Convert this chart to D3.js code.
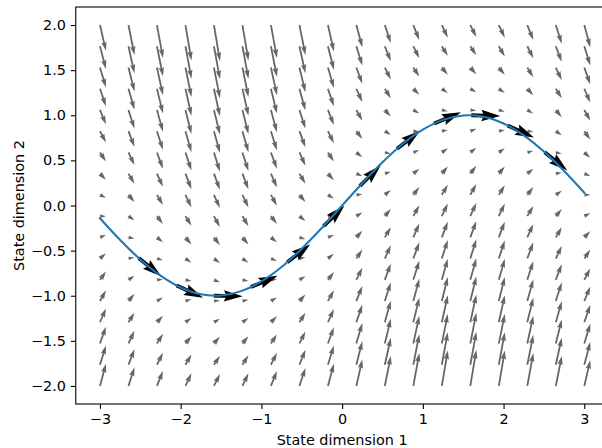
<!DOCTYPE html>
<html>
<head>
<meta charset="utf-8">
<script src="https://cdn.jsdelivr.net/npm/d3@7"></script>
<style>
  body { margin: 0; background: #fff; }
  svg { display: block; }
</style>
</head>
<body>
<svg id="chart" width="602" height="448"></svg>
<script>
// Sample grid of the vector field (state dimension 1 / state dimension 2)
const gridX = [-3.000, -2.647, -2.294, -1.941, -1.588, -1.235, -0.882, -0.529, -0.176,
               0.176, 0.529, 0.882, 1.235, 1.588, 1.941, 2.294, 2.647, 3.000];
const gridY = [-2.000, -1.765, -1.529, -1.294, -1.059, -0.824, -0.588, -0.353, -0.118,
               0.118, 0.353, 0.588, 0.824, 1.059, 1.294, 1.529, 1.765, 2.000];

// Horizontal component of the field, one row per gridY value
const fieldU = [
  [1,1,1,1,1,1,1,1,1,1,1,1,1,1,1,1,1,1],
  [1,1,1,1,1,1,1,1,1,1,1,1,1,1,1,1,1,1],
  [1,1,1,1,1,1,1,1,1,1,1,1,1,1,1,1,1,1],
  [1,1,1,1,1,1,1,1,1,1,1,1,1,1,1,1,1,1],
  [1,1,1,1,1,1,1,1,1,1,1,1,1,1,1,1,1,1],
  [1,1,1,1,1,1,1,1,1,1,1,1,1,1,1,1,1,1],
  [1,1,1,1,1,1,1,1,1,1,1,1,1,1,1,1,1,1],
  [1,1,1,1,1,1,1,1,1,1,1,1,1,1,1,1,1,1],
  [1,1,1,1,1,1,1,1,1,1,1,1,1,1,1,1,1,1],
  [1,1,1,1,1,1,1,1,1,1,1,1,1,1,1,1,1,1],
  [1,1,1,1,1,1,1,1,1,1,1,1,1,1,1,1,1,1],
  [1,1,1,1,1,1,1,1,1,1,1,1,1,1,1,1,1,1],
  [1,1,1,1,1,1,1,1,1,1,1,1,1,1,1,1,1,1],
  [1,1,1,1,1,1,1,1,1,1,1,1,1,1,1,1,1,1],
  [1,1,1,1,1,1,1,1,1,1,1,1,1,1,1,1,1,1],
  [1,1,1,1,1,1,1,1,1,1,1,1,1,1,1,1,1,1],
  [1,1,1,1,1,1,1,1,1,1,1,1,1,1,1,1,1,1],
  [1,1,1,1,1,1,1,1,1,1,1,1,1,1,1,1,1,1]
];

// Vertical component of the field, one row per gridY value
const fieldV = [
  [ 3.7,  3.1,  2.5,  2.1,  2.0,  2.1,  2.5,  3.0,  3.7,  4.4,  5.0,  5.5,  5.9,  6.0,  5.9,  5.5,  5.0,  4.3],
  [ 3.2,  2.6,  2.0,  1.7,  1.5,  1.6,  2.0,  2.5,  3.2,  3.9,  4.5,  5.1,  5.4,  5.5,  5.4,  5.0,  4.5,  3.8],
  [ 2.8,  2.1,  1.6,  1.2,  1.1,  1.2,  1.5,  2.0,  2.7,  3.4,  4.1,  4.6,  4.9,  5.1,  4.9,  4.6,  4.0,  3.3],
  [ 2.3,  1.6,  1.1,  0.7,  0.6,  0.7,  1.0,  1.6,  2.2,  2.9,  3.6,  4.1,  4.5,  4.6,  4.5,  4.1,  3.5,  2.9],
  [ 1.8,  1.2,  0.6,  0.3,  0.1,  0.2,  0.6,  1.1,  1.8,  2.5,  3.1,  3.7,  4.0,  4.1,  4.0,  3.6,  3.1,  2.4],
  [ 1.4,  0.7,  0.1, -0.2, -0.4, -0.2,  0.1,  0.6,  1.3,  2.0,  2.7,  3.2,  3.5,  3.6,  3.5,  3.1,  2.6,  1.9],
  [ 0.9,  0.2, -0.3, -0.7, -0.8, -0.7, -0.4,  0.2,  0.8,  1.5,  2.2,  2.7,  3.1,  3.2,  3.0,  2.7,  2.1,  1.5],
  [ 0.4, -0.2, -0.8, -1.2, -1.3, -1.2, -0.8, -0.3,  0.4,  1.1,  1.7,  2.3,  2.6,  2.7,  2.6,  2.2,  1.7,  1.0],
  [ 0.0, -0.7, -1.3, -1.6, -1.8, -1.7, -1.3, -0.8, -0.1,  0.6,  1.2,  1.8,  2.1,  2.2,  2.1,  1.7,  1.2,  0.5],
  [-0.5, -1.2, -1.7, -2.1, -2.2, -2.1, -1.8, -1.2, -0.6,  0.1,  0.8,  1.3,  1.7,  1.8,  1.6,  1.3,  0.7,  0.0],
  [-1.0, -1.7, -2.2, -2.6, -2.7, -2.6, -2.3, -1.7, -1.1, -0.4,  0.3,  0.8,  1.2,  1.3,  1.2,  0.8,  0.2, -0.4],
  [-1.5, -2.1, -2.7, -3.0, -3.2, -3.1, -2.7, -2.2, -1.5, -0.8, -0.2,  0.4,  0.7,  0.8,  0.7,  0.3, -0.2, -0.9],
  [-1.9, -2.6, -3.1, -3.5, -3.6, -3.5, -3.2, -2.7, -2.0, -1.3, -0.6, -0.1,  0.2,  0.4,  0.2, -0.1, -0.7, -1.4],
  [-2.4, -3.1, -3.6, -4.0, -4.1, -4.0, -3.7, -3.1, -2.5, -1.8, -1.1, -0.6, -0.2, -0.1, -0.3, -0.6, -1.2, -1.8],
  [-2.9, -3.5, -4.1, -4.5, -4.6, -4.5, -4.1, -3.6, -2.9, -2.2, -1.6, -1.0, -0.7, -0.6, -0.7, -1.1, -1.6, -2.3],
  [-3.3, -4.0, -4.6, -4.9, -5.1, -4.9, -4.6, -4.1, -3.4, -2.7, -2.0, -1.5, -1.2, -1.1, -1.2, -1.6, -2.1, -2.8],
  [-3.8, -4.5, -5.0, -5.4, -5.5, -5.4, -5.1, -4.5, -3.9, -3.2, -2.5, -2.0, -1.6, -1.5, -1.7, -2.0, -2.6, -3.2],
  [-4.3, -5.0, -5.5, -5.9, -6.0, -5.9, -5.5, -5.0, -4.4, -3.7, -3.0, -2.5, -2.1, -2.0, -2.1, -2.5, -3.1, -3.7]
];

// Trajectory through state space
const trajX = [-3.00, -2.75, -2.50, -2.25, -2.00, -1.75, -1.50, -1.25, -1.00, -0.75, -0.50, -0.25, 0.00,
               0.25, 0.50, 0.75, 1.00, 1.25, 1.50, 1.75, 2.00, 2.25, 2.50, 2.75, 3.00];
const trajY = [-0.141, -0.382, -0.598, -0.778, -0.909, -0.984, -0.997, -0.949, -0.841, -0.682, -0.479, -0.247, 0.000,
               0.247, 0.479, 0.682, 0.841, 0.949, 0.997, 0.984, 0.909, 0.778, 0.598, 0.382, 0.141];

// Direction of motion at points along the trajectory (unit vectors)
const dirX = [-2.52, -2.05, -1.59, -1.13, -0.68, -0.23, 0.22, 0.68, 1.14, 1.60, 2.05, 2.51];
const dirY = [-0.582, -0.887, -1.000, -0.904, -0.629, -0.228, 0.218, 0.629, 0.909, 1.000, 0.887, 0.590];
const dirU = [0.776, 0.908, 1.000, 0.920, 0.789, 0.716, 0.716, 0.789, 0.923, 1.000, 0.908, 0.778];
const dirV = [-0.631, -0.419, -0.019, 0.393, 0.614, 0.698, 0.699, 0.614, 0.386, -0.029, -0.419, -0.628];

const xTicks = [-3, -2, -1, 0, 1, 2, 3];
const yTicks = [-2.0, -1.5, -1.0, -0.5, 0.0, 0.5, 1.0, 1.5, 2.0];

const svg = d3.select("#chart");
const FONT = "'DejaVu Sans', sans-serif";
const FS = 14.4;

const plot = { left: 75.75, right: 608.5, top: 7, bottom: 404 };
const x = d3.scaleLinear().domain([-3.3, 3.3]).range([plot.left, plot.right]);
const y = d3.scaleLinear().domain([-2.2, 2.2]).range([plot.bottom, plot.top]);

// Arrow length scales: field units -> pixels
const fieldScale = d3.scaleLinear().domain([0, 1]).range([0, 6]);
const dirScale = d3.scaleLinear().domain([0, 1]).range([0, 29]);

// Quiver-style arrow outline along +x, length L px, shaft width w px
function arrowOutline(L, w) {
  const n = L / w;
  let X, Y;
  if (n >= 5) {
    X = [0, n - 4.5, n - 5, n, n - 5, n - 4.5, 0];
    Y = [0.5, 0.5, 1.5, 0, -1.5, -0.5, -0.5];
  } else {
    const s = n / 5;
    X = [0, 0.5, 0, 5, 0, 0.5, 0].map(v => v * s);
    Y = [0.5, 0.5, 1.5, 0, -1.5, -0.5, -0.5].map(v => v * s);
  }
  return "M" + X.map((xx, k) => (xx * w).toFixed(2) + "," + (Y[k] * w).toFixed(2)).join("L") + "Z";
}

function drawArrow(g, px, py, sx, sy, w, color) {
  const L = Math.hypot(sx, sy);
  const ang = Math.atan2(sy, sx) * 180 / Math.PI;
  g.append("path")
    .attr("d", arrowOutline(L, w))
    .attr("transform", `translate(${px},${py}) rotate(${ang})`)
    .attr("fill", color)
    .attr("stroke", "none");
}

// Vector field
const fieldG = svg.append("g");
gridY.forEach((gy, j) => {
  gridX.forEach((gx, i) => {
    const u = fieldU[j][i], v = fieldV[j][i];
    const sx = fieldScale(u), sy = -fieldScale(v);
    drawArrow(fieldG, x(gx), y(gy), sx, sy, 1.77, "#666666");
  });
});

// Direction arrows on the trajectory
const dirG = svg.append("g");
dirX.forEach((dx, k) => {
  drawArrow(dirG, x(dx), y(dirY[k]), dirScale(dirU[k]), -dirScale(dirV[k]), 3.8, "#000000");
});

// Trajectory
const traj = trajX.map((tx, k) => [tx, trajY[k]]);
svg.append("path")
  .datum(traj)
  .attr("d", d3.line().x(d => x(d[0])).y(d => y(d[1])).curve(d3.curveCatmullRom))
  .attr("fill", "none")
  .attr("stroke", "#1f77b4")
  .attr("stroke-width", 2.08)
  .attr("stroke-linecap", "square");

// Frame
svg.append("rect")
  .attr("x", plot.left).attr("y", plot.top)
  .attr("width", plot.right - plot.left).attr("height", plot.bottom - plot.top)
  .attr("fill", "none").attr("stroke", "#000").attr("stroke-width", 1.1);

// Axes
const xAxis = svg.append("g")
  .attr("transform", `translate(0,${plot.bottom})`)
  .call(d3.axisBottom(x).tickValues(xTicks).tickFormat(d3.format("d")).tickSize(4.9).tickPadding(4.4));
const yAxis = svg.append("g")
  .attr("transform", `translate(${plot.left},0)`)
  .call(d3.axisLeft(y).tickValues(yTicks).tickFormat(d3.format(".1f")).tickSize(4.9).tickPadding(4.9));

[xAxis, yAxis].forEach(a => {
  a.select(".domain").remove();
  a.attr("font-family", FONT).attr("font-size", FS);
  a.selectAll(".tick line").attr("stroke", "#000").attr("stroke-width", 1.1);
  a.selectAll(".tick text").attr("fill", "#000");
});

svg.append("text")
  .attr("x", x(0)).attr("y", 444.5)
  .attr("text-anchor", "middle")
  .attr("font-family", FONT).attr("font-size", FS)
  .text("State dimension 1");

svg.append("text")
  .attr("transform", `translate(23.5,${(plot.top + plot.bottom) / 2}) rotate(-90)`)
  .attr("text-anchor", "middle")
  .attr("font-family", FONT).attr("font-size", FS)
  .text("State dimension 2");
</script>
</body>
</html>
